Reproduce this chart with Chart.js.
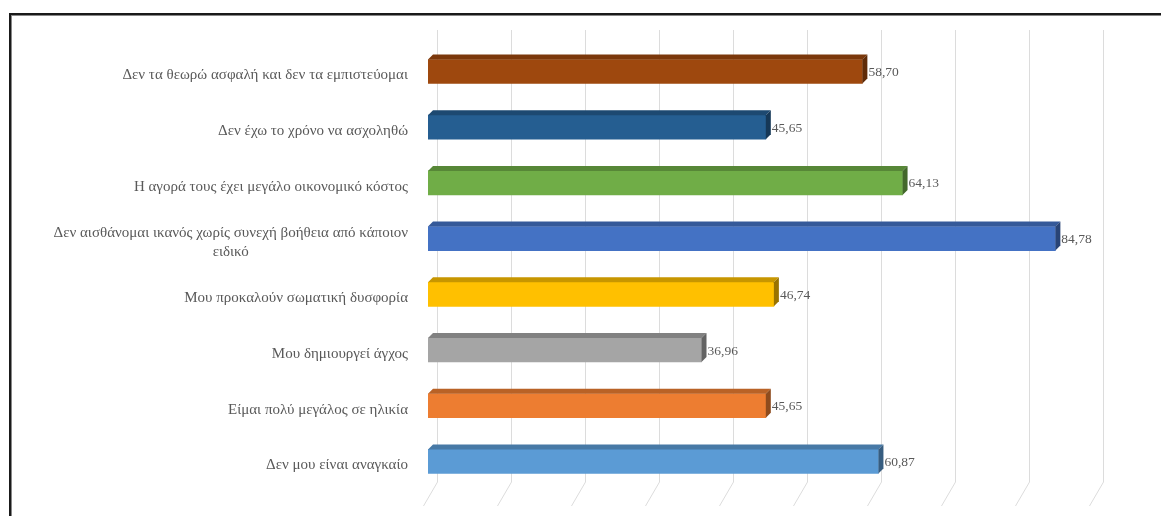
<!DOCTYPE html>
<html>
<head>
<meta charset="utf-8">
<script src="https://cdn.jsdelivr.net/npm/chart.js@4/dist/chart.umd.min.js"></script>
<style>
  html, body { margin: 0; padding: 0; background: #fff; }
  #wrap { position: relative; width: 1161px; height: 516px; overflow: hidden; }
  #frame { position: absolute; left: 9px; top: 13px; right: -4px; bottom: -4px; border-top: 2px solid #1a1a1a; border-left: 2px solid #1a1a1a; box-shadow: inset 1px 1px 0 #888; }
  canvas { position: absolute; left: 0; top: 0; }
</style>
</head>
<body>
<div id="wrap">
  <div id="frame"></div>
  <canvas id="c" width="1161" height="516"></canvas>
</div>
<script>
const categories = [
  "Δεν τα θεωρώ ασφαλή και δεν τα εμπιστεύομαι",
  "Δεν έχω το χρόνο να ασχοληθώ",
  "Η αγορά τους έχει μεγάλο οικονομικό κόστος",
  ["Δεν αισθάνομαι ικανός χωρίς συνεχή βοήθεια από κάποιον", "ειδικό"],
  "Μου προκαλούν σωματική δυσφορία",
  "Μου δημιουργεί άγχος",
  "Είμαι πολύ μεγάλος σε ηλικία",
  "Δεν μου είναι αναγκαίο"
];
const values = [58.70, 45.65, 64.13, 84.78, 46.74, 36.96, 45.65, 60.87];
const barColors = ["#9E480E", "#255E91", "#70AD47", "#4472C4", "#FFC000", "#A5A5A5", "#ED7D31", "#5B9BD5"];
const axisMin = 0, axisMax = 90, axisStep = 10;

function shade(hex, f) {
  const n = parseInt(hex.slice(1), 16);
  const r = Math.round(((n >> 16) & 255) * f), g = Math.round(((n >> 8) & 255) * f), b = Math.round((n & 255) * f);
  return `rgb(${r},${g},${b})`;
}
function fmt(v) { return v.toFixed(2).replace('.', ','); }

const SERIF = '"Liberation Serif", "DejaVu Serif", serif';
const DEPTH = 5;

const decor = {
  id: 'decor',
  beforeDatasetsDraw(chart) {
    const ctx = chart.ctx, xs = chart.scales.x;
    ctx.save();
    ctx.strokeStyle = '#dcdcdc';
    ctx.lineWidth = 1;
    for (let v = axisMin; v <= axisMax; v += axisStep) {
      const gx = Math.round(xs.getPixelForValue(v) + 9) + 0.5;
      ctx.beginPath();
      ctx.moveTo(gx, 30);
      ctx.lineTo(gx, 482);
      ctx.lineTo(gx - 14, 506);
      ctx.stroke();
    }
    ctx.restore();
  },
  afterDatasetsDraw(chart) {
    const ctx = chart.ctx, meta = chart.getDatasetMeta(0), ys = chart.scales.y;
    ctx.save();
    meta.data.forEach((bar, i) => {
      const p = bar.getProps(['x', 'y', 'base', 'height'], true);
      const x0 = p.base, x1 = p.x, top = p.y - p.height / 2, bot = p.y + p.height / 2;
      const col = barColors[i];
      ctx.fillStyle = shade(col, 0.78);
      ctx.beginPath();
      ctx.moveTo(x0, top); ctx.lineTo(x0 + DEPTH, top - DEPTH);
      ctx.lineTo(x1 + DEPTH, top - DEPTH); ctx.lineTo(x1, top); ctx.closePath(); ctx.fill();
      ctx.fillStyle = shade(col, 0.6);
      ctx.beginPath();
      ctx.moveTo(x1, top); ctx.lineTo(x1 + DEPTH, top - DEPTH);
      ctx.lineTo(x1 + DEPTH, bot - DEPTH); ctx.lineTo(x1, bot); ctx.closePath(); ctx.fill();
      ctx.fillStyle = '#595959';
      ctx.font = '13.5px ' + SERIF;
      ctx.textAlign = 'left';
      ctx.textBaseline = 'middle';
      ctx.fillText(fmt(values[i]), x1 + DEPTH + 1, p.y + 1);
    });
    ctx.fillStyle = '#595959';
    ctx.font = '15px ' + SERIF;
    ctx.textBaseline = 'middle';
    const rightEdge = 408;
    categories.forEach((lab, i) => {
      const cy = ys.getPixelForValue(i) + 4;
      const lines = Array.isArray(lab) ? lab : [lab];
      const widths = lines.map(l => ctx.measureText(l).width);
      const maxW = Math.max(...widths);
      const lh = 19;
      const startY = cy - (lines.length - 1) * lh / 2;
      lines.forEach((l, k) => {
        ctx.textAlign = 'center';
        ctx.fillText(l, rightEdge - maxW / 2, startY + k * lh);
      });
    });
    ctx.restore();
  }
};

new Chart(document.getElementById('c'), {
  type: 'bar',
  data: {
    labels: categories,
    datasets: [{
      data: values,
      backgroundColor: barColors,
      borderWidth: 0,
      barThickness: 24
    }]
  },
  options: {
    indexAxis: 'y',
    responsive: false,
    animation: false,
    devicePixelRatio: 1,
    layout: { padding: { left: 420, right: 67, top: 43.6, bottom: 18.7 } },
    plugins: { legend: { display: false }, tooltip: { enabled: false } },
    scales: {
      x: {
        min: axisMin, max: axisMax,
        ticks: { display: false, stepSize: axisStep },
        grid: { display: false },
        border: { display: false }
      },
      y: {
        ticks: { display: false },
        grid: { display: false },
        border: { display: false }
      }
    }
  },
  plugins: [decor]
});
</script>
</body>
</html>
